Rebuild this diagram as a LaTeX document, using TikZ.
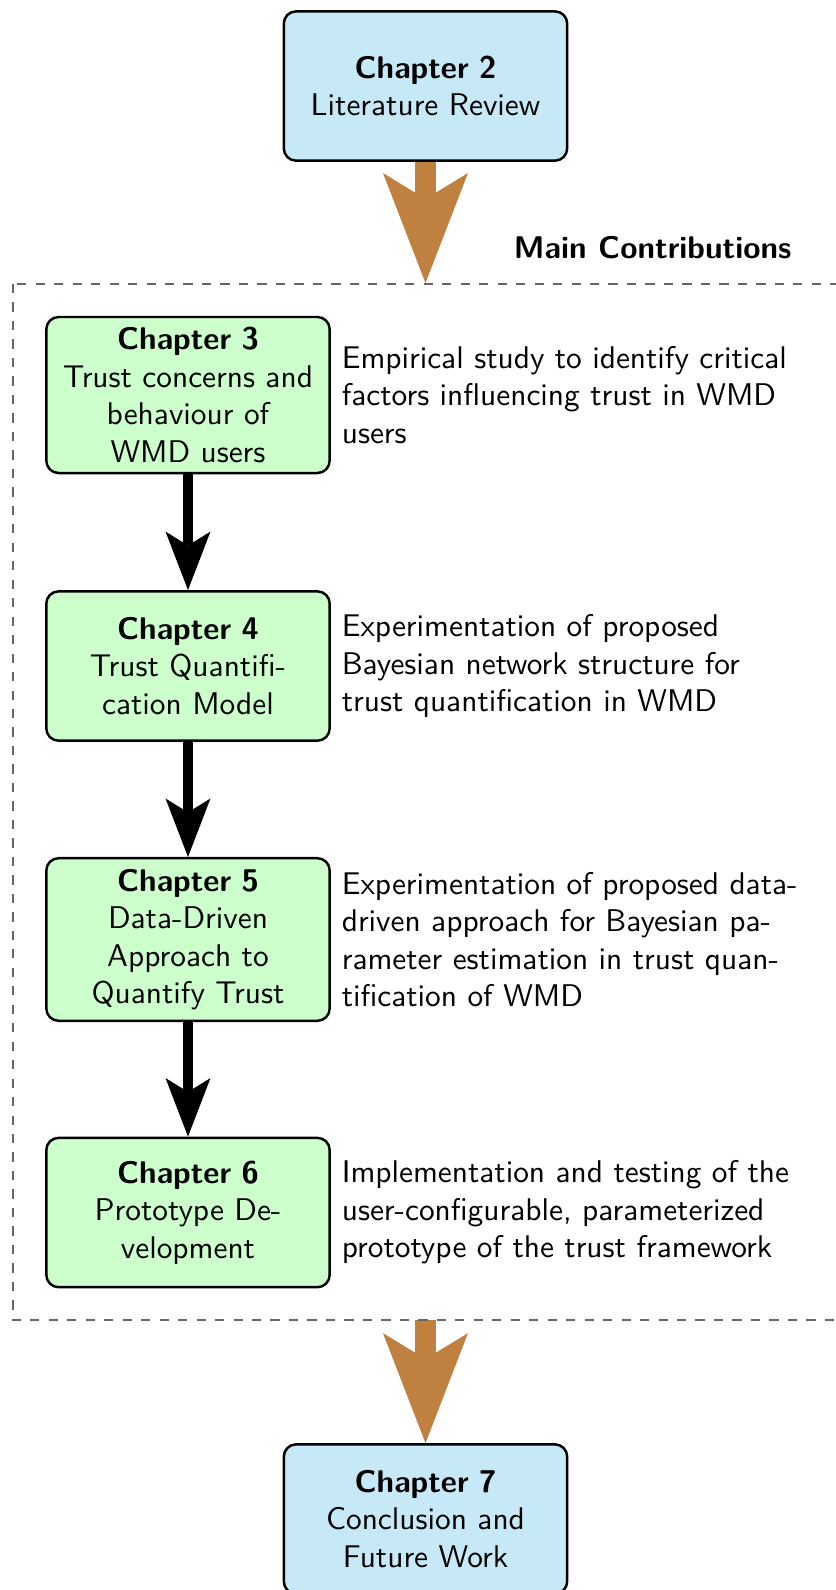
\documentclass[tikz,border=0pt]{standalone}
\usepackage{fontspec}
\usetikzlibrary{arrows.meta,backgrounds}
\definecolor{chapblue}{RGB}{198,232,247}
\definecolor{chapgreen}{RGB}{204,255,204}
\definecolor{flowbrown}{RGB}{191,128,64}
\begin{document}
\begin{tikzpicture}[x=0.3247pt,y=-0.3247pt,
  font=\fontsize{10.18pt}{12.2pt}\selectfont\sffamily,
  chapbox/.style={draw=black,thick,rounded corners=4pt,text width=3cm,
    inner sep=3.33pt,align=center,minimum height=48.5pt},
  mainbox/.style={chapbox,fill=chapblue},
  contrib/.style={chapbox,fill=chapgreen},
  desc/.style={anchor=west,text width=175pt,align=left,inner sep=3.33pt},
  bigflow/.style={flowbrown,line width=7.14pt,
    -{Stealth[length=35.7pt,width=27.6pt,inset=8.4pt,line width=0pt]}},
  stepflow/.style={black,line width=3.57pt,
    -{Stealth[length=19pt,width=14.6pt,inset=4.5pt,line width=0pt]}},
]
\useasboundingbox (0,0) rectangle (835,1590);

% chapter boxes
\node[mainbox] (ch2) at (425.5,86) {\textbf{Chapter 2}\\Literature Review};
\node[contrib,minimum height=50.5pt] (ch3) at (188,395)
  {\textbf{Chapter 3}\\Trust concerns and\\behaviour of\\WMD users};
\node[contrib] (ch4) at (188,666)
  {\textbf{Chapter 4}\\Trust Quantifi-\\cation Model};
\node[contrib,minimum height=52.8pt] (ch5) at (188,939.5)
  {\textbf{Chapter 5}\\Data-Driven\\Approach to\\Quantify Trust};
\node[contrib] (ch6) at (188,1212.5)
  {\textbf{Chapter 6}\\Prototype De-\\velopment};
\node[mainbox] (ch7) at (425.5,1519)
  {\textbf{Chapter 7}\\Conclusion and\\Future Work};

% descriptions of the contributions
\node[desc] (d3) at (ch3.east)
  {Empirical study to identify critical\\factors influencing trust in WMD\\users};
\node[desc] (d4) at (ch4.east)
  {Experimentation of proposed\\Bayesian network structure for\\trust quantification in WMD};
\node[desc] (d5) at (ch5.east)
  {Experimentation of proposed data-\\driven approach for Bayesian pa-\\rameter estimation in trust quan-\\tification of WMD};
\node[desc] (d6) at (ch6.east)
  {Implementation and testing of the\\user-configurable, parameterized\\prototype of the trust framework};

% frame around the main contributions
\draw[dashed,black!60] (13,284) rectangle (850,1320);
\node[anchor=base east,inner sep=0pt,font=\fontsize{10.18pt}{12.2pt}\selectfont\sffamily\bfseries]
  (mc) at (792,258) {Main Contributions};
\coordinate (frametop) at (425.5,283);
\coordinate (framebot) at (425.5,1320);

% flow arrows
\begin{scope}[on background layer]
  \draw[bigflow] (ch2.south) -- (frametop);
  \draw[bigflow] (framebot) -- (ch7.north);
  \draw[stepflow] (ch3.south) -- (ch4.north);
  \draw[stepflow] (ch4.south) -- (ch5.north);
  \draw[stepflow] (ch5.south) -- (ch6.north);
\end{scope}
\end{tikzpicture}
\end{document}
